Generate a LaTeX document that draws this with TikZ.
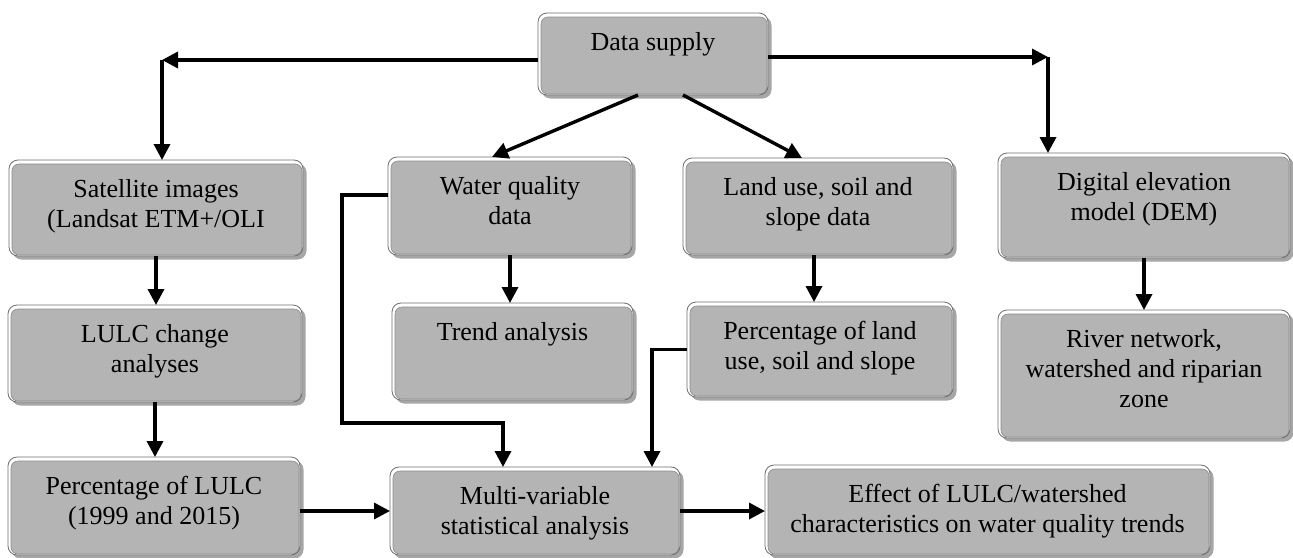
\documentclass[tikz,border=0pt]{standalone}
\usepackage{fontspec}
\setmainfont{Liberation Serif}
\usetikzlibrary{arrows.meta,shadows}
\definecolor{boxgray}{HTML}{B4B4B4}
\definecolor{shgray}{HTML}{A6A6A6}
\definecolor{edgegray}{HTML}{6E6E6E}
\tikzset{
  box/.style={draw=edgegray, line width=0.8pt, fill=white, rounded corners=9pt,
    inner sep=0pt, outer sep=0pt,
    drop shadow={shadow xshift=3.5pt, shadow yshift=-3.5pt, fill=shgray, opacity=1},
    font={\fontsize{26}{30}\selectfont},
    path picture={\filldraw[fill=boxgray, draw=edgegray!80, line width=0.6pt, rounded corners=7pt]
      ([shift={(3pt,-4pt)}]path picture bounding box.north west) rectangle
      ([shift={(-1pt,1pt)}]path picture bounding box.south east);}},
  arr/.style={line width=3.4pt, -{Triangle[length=16pt,width=16pt]}}
}
\newcommand\mybox[6]{%
  \pgfmathsetmacro\bw{#4-#2}\pgfmathsetmacro\bh{#5-#3}%
  \pgfmathsetmacro\cx{(#2+#4)/2}\pgfmathsetmacro\cy{(#3+#5)/2}%
  \node[box] (#1) at (\cx,\cy) {\parbox[c][\bh pt][t]{\bw pt}{\centering\vspace*{16pt}\strut #6\par}};}
\begin{document}
\begin{tikzpicture}[x=1pt,y=-1pt]
\useasboundingbox (0,0) rectangle (1293,557);
\mybox{ds}{538}{13}{768}{95}{Data supply}
\mybox{sat}{9}{160}{303}{256}{Satellite images\\\strut(Landsat ETM+/OLI}
\mybox{lulc}{8}{305}{302}{402}{LULC change\\\strut analyses}
\mybox{plulc}{8}{457}{300}{555}{Percentage of LULC\\\strut(1999 and 2015)}
\mybox{wq}{388}{157}{632}{255}{Water quality\\\strut data}
\mybox{trend}{392}{303}{633}{400}{Trend analysis}
\mybox{mv}{390}{467}{680}{555}{Multi-variable\\\strut statistical analysis}
\mybox{lu}{683}{158}{953}{255}{Land use, soil and\\\strut slope data}
\mybox{pl}{687}{302}{953}{397}{Percentage of land\\\strut use, soil and slope}
\mybox{dem}{998}{153}{1290}{258}{Digital elevation\\\strut model (DEM)}
\mybox{river}{998}{310}{1290}{438}{River network,\\\strut watershed and riparian\\\strut zone}
\mybox{eff}{765}{465}{1210}{555}{Effect of LULC/watershed\\\strut characteristics on water quality trends}

\coordinate (cl) at (162,60);
\coordinate (cr) at (1048,57);
\coordinate (e1) at (342,423);

\draw[arr] (ds.west |- cl) -- (cl);
\draw[arr] (cl) -- (cl |- sat.north);
\draw[arr] (ds.east |- cr) -- (cr);
\draw[arr] (cr) -- (cr |- dem.north);
\draw[arr] ([xshift=-15pt]ds.south) -- ([xshift=-18pt]wq.north);
\draw[arr] ([xshift=30pt]ds.south) -- ([xshift=-16pt]lu.north);

\draw[arr] (sat.south) -- (sat.south |- lulc.north);
\draw[arr] (lulc.south) -- (lulc.south |- plulc.north);
\draw[arr] (wq.south) -- (wq.south |- trend.north);
\draw[arr] ([xshift=-4pt]lu.south) -- ([xshift=-4pt]lu.south |- pl.north);
\draw[arr] (dem.south) -- (dem.south |- river.north);

\draw[arr] ([yshift=11pt]wq.west) -| (e1) -| ([xshift=-32pt]mv.north);
\draw[arr] (pl.west) -| ([xshift=117pt]mv.north);
\draw[arr] (mv.west -| plulc.east) -- (mv.west);
\draw[arr] (mv.east) -- (mv.east -| eff.west);
\end{tikzpicture}
\end{document}
